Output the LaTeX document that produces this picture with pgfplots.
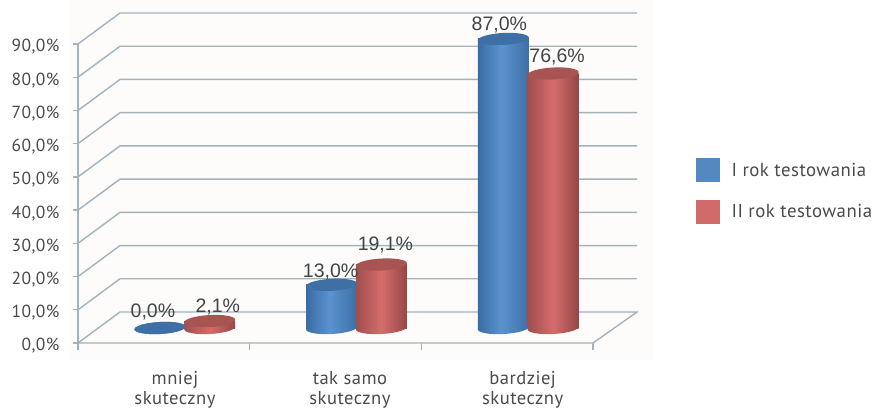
\documentclass[border=0pt]{standalone}
\usepackage{fontspec}
\setmainfont{PT Sans}
\newfontfamily\lblfont{Liberation Sans}
\newfontfamily\ticfont[LetterSpace=2.5]{PT Sans}
\usepackage{pgfplots}
\pgfplotsset{compat=1.18}
\definecolor{gridc}{HTML}{A3B3BB}
\definecolor{bgc}{HTML}{FDFCFA}
\definecolor{txt}{HTML}{4A4A4A}
\definecolor{lbl}{HTML}{404548}
\definecolor{bluea}{HTML}{3A6CA3}
\definecolor{blueb}{HTML}{5A93CE}
\definecolor{bluec}{HTML}{3D6FA6}
\definecolor{bluetop}{HTML}{3F70A5}
\definecolor{reda}{HTML}{A04E4D}
\definecolor{redb}{HTML}{D46D6C}
\definecolor{redc}{HTML}{964645}
\definecolor{redtop}{HTML}{A85453}
\definecolor{legb}{HTML}{5588C0}
\definecolor{legr}{HTML}{D06B6A}
\pgfdeclarehorizontalshading{cylblue}{100bp}{color(0bp)=(bluea); color(25bp)=(bluea); color(48bp)=(blueb); color(75bp)=(bluec); color(100bp)=(bluec)}
\pgfdeclarehorizontalshading{cylred}{100bp}{color(0bp)=(reda); color(25bp)=(reda); color(50bp)=(redb); color(75bp)=(redc); color(100bp)=(redc)}
\newcommand{\cylpath}{\pgfpathellipse{\pgfpointorigin}{\pgfqpoint{25.5bp}{1.4bp}}{\pgfqpoint{-0.3bp}{6bp}}}
\pgfdeclareplotmark{topblue}{\cylpath\pgfsetfillcolor{bluetop}\pgfusepathqfill}
\pgfdeclareplotmark{topred}{\cylpath\pgfsetfillcolor{redtop}\pgfusepathqfill}
\pgfdeclareplotmark{botblue}{\cylpath\pgfshadepath{cylblue}{0}\pgfusepath{discard}}
\pgfdeclareplotmark{botred}{\cylpath\pgfshadepath{cylred}{0}\pgfusepath{discard}}
\pgfplotsset{
  cyl/.style n args={3}{forget plot, ybar, bar width=51bp, bar shift=0pt, draw=none, shading=#1,
    nodes near coords={\pgfmathprintnumber[fixed,fixed zerofill,precision=1,use comma,assume math mode=true]{\pgfplotspointmeta}\%},
    every node near coord/.style={anchor=center, xshift=#2, yshift=#3, text=lbl, inner sep=0pt,
      font=\lblfont\fontsize{19.5bp}{20bp}\selectfont}},
  mk/.style={forget plot, only marks, mark=#1},
  gl/.style={forget plot, draw=gridc, line width=1.4bp, no marks},
}
\begin{document}
\begin{tikzpicture}[x=1bp,y=1bp]
\useasboundingbox (0,0) rectangle (873,409);
\fill[bgc] (70,49) rectangle (653,409);
% frame: walls, floor and tick labels
\begin{axis}[
  at={(78bp,66bp)}, anchor=south west, scale only axis, width=559bp, height=330bp,
  xmin=0, xmax=3.256, ymin=0, ymax=99.33, clip=false,
  axis x line=bottom, axis y line=left, axis line style={draw=none},
  xtick={0.565,1.584,2.59},
  xticklabels={{mniej\\skuteczny},{tak samo\\skuteczny},{bardziej\\skuteczny}},
  xticklabel style={align=center, anchor=north, yshift=-20bp, text=txt,
    font=\ticfont\fontsize{18.6bp}{20bp}\selectfont},
  x tick style={draw=none},
  ytick={0,10,...,90},
  yticklabel={\pgfmathprintnumber[fixed,fixed zerofill,precision=1,use comma,assume math mode=true]{\tick}\%},
  yticklabel style={text=txt, font=\ticfont\fontsize{17.5bp}{20bp}\selectfont, xshift=-10bp, yshift=-3bp},
  y tick style={draw=gridc, line width=1.3bp},
  tick align=outside, major tick length=5bp,
]
\addplot[gl] coordinates {(0,0) (0,90)};
\addplot[gl] coordinates {(0,0) (3,0) (3.256,9.33) (0.2446,9.33) (0,0)};
\addplot[gl] coordinates {(0,10) (0.2446,19.33) (3.256,19.33)};
\addplot[gl] coordinates {(0,20) (0.2446,29.33) (3.256,29.33)};
\addplot[gl] coordinates {(0,30) (0.2446,39.33) (3.256,39.33)};
\addplot[gl] coordinates {(0,40) (0.2446,49.33) (3.256,49.33)};
\addplot[gl] coordinates {(0,50) (0.2446,59.33) (3.256,59.33)};
\addplot[gl] coordinates {(0,60) (0.2446,69.33) (3.256,69.33)};
\addplot[gl] coordinates {(0,70) (0.2446,79.33) (3.256,79.33)};
\addplot[gl] coordinates {(0,80) (0.2446,89.33) (3.256,89.33)};
\addplot[gl] coordinates {(0,90) (0.2446,99.33) (3.256,99.33)};
\addplot[gl] coordinates {(1,0) (1,-2)};
\addplot[gl] coordinates {(2,0) (2,-2)};
\addplot[gl] coordinates {(3,0) (3,-2)};
\addplot[gl] coordinates {(0,0) (0,-2)};
\end{axis}
% cylinders, standing half way back on the floor
\begin{axis}[
  at={(99bp,81bp)}, anchor=south west, scale only axis, width=559bp, height=330bp,
  xmin=0, xmax=3.256, ymin=0, ymax=99.33, clip=false, hide axis,
  legend style={at={(597bp,170bp)}, anchor=north west, draw=none, fill=none,
    font=\ticfont\fontsize{18.8bp}{20bp}\selectfont, text=txt,
    row sep=18bp, inner sep=0pt, legend cell align=left},
  legend image code/.code={\fill[#1] (0bp,-11.5bp) rectangle (23bp,11.5bp);},
]
\addplot[mk=botblue] coordinates {(0.355,0)};
\addplot[cyl={cylblue}{-7bp}{16.5bp}] coordinates {(0.355,0.0)};
\addplot[mk=topblue] coordinates {(0.355,0.0)};
\addplot[mk=botred] coordinates {(0.645,0)};
\addplot[cyl={cylred}{8bp}{14.5bp}] coordinates {(0.645,2.1)};
\addplot[mk=topred] coordinates {(0.645,2.1)};
\addplot[mk=botblue] coordinates {(1.355,0)};
\addplot[cyl={cylblue}{-1bp}{13bp}] coordinates {(1.355,13.0)};
\addplot[mk=topblue] coordinates {(1.355,13.0)};
\addplot[mk=botred] coordinates {(1.645,0)};
\addplot[cyl={cylred}{4bp}{20bp}] coordinates {(1.645,19.1)};
\addplot[mk=topred] coordinates {(1.645,19.1)};
\addplot[mk=botblue] coordinates {(2.355,0)};
\addplot[cyl={cylblue}{-4bp}{14.5bp}] coordinates {(2.355,87.0)};
\addplot[mk=topblue] coordinates {(2.355,87.0)};
\addplot[mk=botred] coordinates {(2.645,0)};
\addplot[cyl={cylred}{4bp}{17bp}] coordinates {(2.645,76.6)};
\addplot[mk=topred] coordinates {(2.645,76.6)};
\addlegendimage{legb}
\addlegendentry{\hspace*{10bp}\raisebox{-1.5bp}{I rok testowania}}
\addlegendimage{legr}
\addlegendentry{\hspace*{10bp}\raisebox{-1.5bp}{II rok testowania}}
\end{axis}
\end{tikzpicture}
\end{document}
